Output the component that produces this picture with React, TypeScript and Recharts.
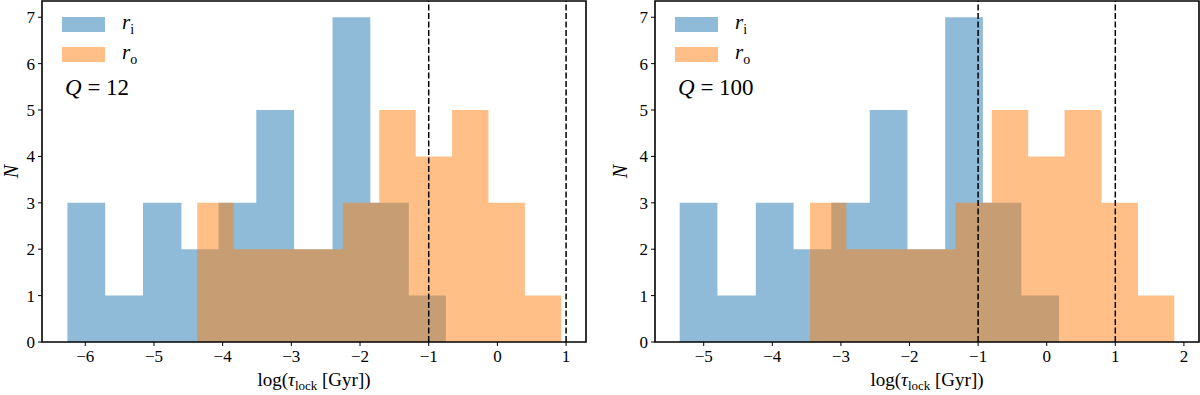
import {
  Area, ComposedChart, Legend, ReferenceArea, ReferenceLine, XAxis, YAxis,
} from "recharts";

// bin edges (log tau_lock) and counts
const innerEdgesQ12 = [-6.26, -5.71, -5.16, -4.6, -4.06, -3.51, -2.96, -2.4, -1.85, -1.29, -0.75];
const outerEdgesQ12 = [-4.37, -3.84, -3.31, -2.78, -2.25, -1.72, -1.19, -0.66, -0.13, 0.4, 0.93];
const innerEdgesQ100 = [-5.35, -4.8, -4.24, -3.69, -3.14, -2.58, -2.03, -1.48, -0.93, -0.37, 0.18];
const outerEdgesQ100 = [-3.45, -2.92, -2.39, -1.86, -1.33, -0.8, -0.27, 0.26, 0.8, 1.33, 1.86];
const innerCounts = [3, 1, 3, 2, 3, 5, 2, 7, 3, 1];
const outerCounts = [3, 2, 2, 2, 3, 5, 4, 5, 3, 1];

const ticksQ12 = [-6, -5, -4, -3, -2, -1, 0, 1];
const ticksQ100 = [-5, -4, -3, -2, -1, 0, 1, 2];
const yTicks = [0, 1, 2, 3, 4, 5, 6, 7];
const markers = [-1, 1];

const BLUE = "#1f77b4";
const ORANGE = "#ff7f0e";
const FONT = "'Liberation Serif', 'DejaVu Serif', serif";
const Y_MAX = 7.35;

function countAt(edges: number[], counts: number[], x: number) {
  for (let i = 0; i < counts.length; i++) {
    if (x >= edges[i] && x < edges[i + 1]) return counts[i];
  }
  return 0;
}

// one row per bin edge of either histogram, step value for both series
function buildRows(inner: number[], outer: number[]) {
  const xs = Array.from(new Set([...inner, ...outer])).sort((a, b) => a - b);
  return xs.map((x) => ({
    x,
    inner: countAt(inner, innerCounts, x),
    outer: countAt(outer, outerCounts, x),
  }));
}

const fmt = (v: number) => String(v).replace("-", "\u2212");

function XLabel({ viewBox }: any) {
  const cx = viewBox.x + viewBox.width / 2;
  return (
    <text x={cx} y={386} textAnchor="middle" fontFamily={FONT} fontSize={19} fill="#000">
      log(<tspan fontStyle="italic">τ</tspan>
      <tspan fontSize={13} dy={4}>lock</tspan>
      <tspan dy={-4}> [Gyr])</tspan>
    </text>
  );
}

function makeYLabel(x: number) {
  return function YLabel({ viewBox }: any) {
    const cy = viewBox.y + viewBox.height / 2;
    return (
      <text x={x} y={cy} transform={`rotate(-90 ${x} ${cy})`} textAnchor="middle"
        fontFamily={FONT} fontSize={20} fontStyle="italic" fill="#000">
        N
      </text>
    );
  };
}

function LegendBox({ q }: { q: string }) {
  const entries = [
    { color: BLUE, sub: "i" },
    { color: ORANGE, sub: "o" },
  ];
  return (
    <div style={{ fontFamily: FONT, color: "#000" }}>
      {entries.map((e) => (
        <div key={e.sub} style={{ display: "flex", alignItems: "center", height: 30 }}>
          <span style={{ width: 43, height: 15, background: e.color, opacity: 0.5, display: "inline-block" }} />
          <span style={{ marginLeft: 17, fontSize: 21 }}>
            <i>r</i><sub style={{ fontSize: 14 }}>{e.sub}</sub>
          </span>
        </div>
      ))}
      <div style={{ fontSize: 23, marginTop: 6, marginLeft: 3 }}>
        <i>Q</i> = {q}
      </div>
    </div>
  );
}

function Panel({ inner, outer, ticks, domain, yAxisWidth, labelX, q, left }: {
  inner: number[]; outer: number[]; ticks: number[]; domain: [number, number];
  yAxisWidth: number; labelX: number; q: string; left: number;
}) {
  const rows = buildRows(inner, outer);
  return (
    <div style={{ position: "absolute", left, top: 0 }}>
      <ComposedChart width={600} height={395} data={rows}
        margin={{ top: 1, right: 600 - yAxisWidth - 544, bottom: 0, left: 0 }}>
        <XAxis dataKey="x" type="number" domain={domain} ticks={ticks} allowDataOverflow
          height={53} tickFormatter={fmt} tickSize={4} tickMargin={4}
          axisLine={false} tickLine={{ stroke: "#000" }}
          tick={{ fontSize: 17, fill: "#000", fontFamily: FONT }}
          label={{ content: XLabel }} />
        <YAxis type="number" domain={[0, Y_MAX]} ticks={yTicks} allowDataOverflow
          width={yAxisWidth} tickSize={4} tickMargin={3}
          axisLine={false} tickLine={{ stroke: "#000" }}
          tick={{ fontSize: 17, fill: "#000", fontFamily: FONT }}
          label={{ content: makeYLabel(labelX) }} />
        <Area type="stepAfter" dataKey="inner" name="inner" fill={BLUE} fillOpacity={0.5}
          stroke="none" dot={false} activeDot={false} baseValue={0} isAnimationActive={false} />
        <Area type="stepAfter" dataKey="outer" name="outer" fill={ORANGE} fillOpacity={0.5}
          stroke="none" dot={false} activeDot={false} baseValue={0} isAnimationActive={false} />
        {markers.map((m) => (
          <ReferenceLine key={m} x={m} stroke="#000" strokeWidth={1.5} strokeDasharray="6 2.5" />
        ))}
        <ReferenceArea x1={domain[0]} x2={domain[1]} y1={0} y2={Y_MAX} fill="none"
          stroke="#000" strokeWidth={1.6} ifOverflow="visible" />
        <Legend layout="horizontal" align="center" verticalAlign="middle"
          wrapperStyle={{ left: yAxisWidth + 20, top: 9, width: "auto" }}
          content={() => <LegendBox q={q} />} />
      </ComposedChart>
    </div>
  );
}

export default function App() {
  return (
    <div style={{ position: "absolute", left: 0, top: 0, width: 1200, height: 395, background: "#fff" }}>
      <Panel inner={innerEdgesQ12} outer={outerEdgesQ12} ticks={ticksQ12} domain={[-6.63, 1.29]}
        yAxisWidth={42} labelX={18} q="12" left={0} />
      <Panel inner={innerEdgesQ100} outer={outerEdgesQ100} ticks={ticksQ100} domain={[-5.71, 2.22]}
        yAxisWidth={55} labelX={27} q="100" left={600} />
    </div>
  );
}
